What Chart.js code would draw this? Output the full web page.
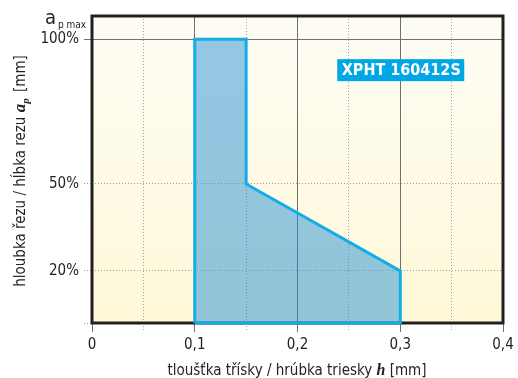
<!DOCTYPE html>
<html lang="cs">
<head>
  <meta charset="UTF-8" />
  <title>XPHT 160412S</title>
  <script src="https://cdn.jsdelivr.net/npm/chart.js"></script>
  <style>
    * { box-sizing: border-box; margin: 0; padding: 0; }
    body { background: #fff; width: 518px; height: 378px; overflow: hidden; }
    canvas { display: block; }
  </style>
</head>
<body>
  <canvas id="chart" width="518" height="378"></canvas>

  <script>
    // polygon of the working area (h in mm, ap in % of ap max)
    const hValues  = [0.1, 0.1, 0.15, 0.15, 0.3, 0.3, 0.1];
    const apValues = [2, 100, 100, 50, 20, 2, 2];
    const yTickValues = [2, 20, 50, 100];
    const xMin = 0, xMax = 0.4, xStep = 0.05;
    const yMin = 2, yMax = 108;
    const insertLabel = "XPHT 160412S";
    const xTitle = ["tloušťka třísky / hrúbka triesky ", "h", " [mm]"];
    const yTitle = ["hloubka řezu / hĺbka rezu ", "a", "p", " [mm]"];

    const SANS = "'Liberation Sans Narrow', 'DejaVu Sans Condensed', 'Liberation Sans', sans-serif";
    const SERIF = "'Liberation Serif', 'DejaVu Serif', serif";

    const isMajor = v => Math.abs(v * 10 - Math.round(v * 10)) < 1e-6;
    const xMajor = c => c.tick && isMajor(c.tick.value);
    const yMajor = c => c.tick && c.tick.value === 100;

    const frame = {
      id: "frame",
      beforeDraw(chart) {
        const { ctx, chartArea: a } = chart;
        const g = ctx.createLinearGradient(0, a.top, 0, a.bottom);
        g.addColorStop(0, "#fefdf5");
        g.addColorStop(1, "#fff8d8");
        ctx.save();
        ctx.fillStyle = g;
        ctx.fillRect(a.left, a.top, a.right - a.left, a.bottom - a.top);
        ctx.restore();
      },
      beforeDatasetsDraw(chart) {
        const { ctx, chartArea: a } = chart;
        ctx.save();
        ctx.strokeStyle = "#231f20";
        ctx.lineWidth = 3;
        ctx.strokeRect(a.left, a.top, a.right - a.left, a.bottom - a.top);
        ctx.restore();
      },
      afterDraw(chart) {
        const { ctx, scales } = chart;
        ctx.save();
        ctx.fillStyle = "#231f20";
        ctx.textBaseline = "alphabetic";

        // ap max over the y axis
        ctx.font = "20px " + SANS;
        ctx.fillText("a", 45, 24);
        ctx.font = "10px " + SANS;
        ctx.fillText("p max", 58, 28);

        // x axis title
        const f1 = "15px " + SANS, f2 = "bold italic 16px " + SERIF;
        ctx.font = f1; const w0 = ctx.measureText(xTitle[0]).width, w2 = ctx.measureText(xTitle[2]).width;
        ctx.font = f2; const w1 = ctx.measureText(xTitle[1]).width;
        let x = 297 - (w0 + w1 + w2) / 2;
        ctx.font = f1; ctx.fillText(xTitle[0], x, 375); x += w0;
        ctx.font = f2; ctx.fillText(xTitle[1], x, 375); x += w1;
        ctx.font = f1; ctx.fillText(xTitle[2], x, 375);

        // y axis title, rotated
        ctx.translate(25, 172);
        ctx.rotate(-Math.PI / 2);
        const f3 = "bold italic 17px " + SERIF, f4 = "bold italic 11px " + SERIF;
        ctx.font = f1; const v0 = ctx.measureText(yTitle[0]).width, v3 = ctx.measureText(yTitle[3]).width;
        ctx.font = f3; const v1 = ctx.measureText(yTitle[1]).width;
        ctx.font = f4; const v2 = ctx.measureText(yTitle[2]).width;
        let y = -(v0 + v1 + v2 + v3) / 2;
        ctx.font = f1; ctx.fillText(yTitle[0], y, 0); y += v0;
        ctx.font = f3; ctx.fillText(yTitle[1], y, 0); y += v1;
        ctx.font = f4; ctx.fillText(yTitle[2], y, 4); y += v2 + 2;
        ctx.font = f1; ctx.fillText(yTitle[3], y, 0);
        ctx.setTransform(1, 0, 0, 1, 0, 0);

        // insert label box
        const cx = scales.x.getPixelForValue(0.3), cy = scales.y.getPixelForValue(89.3);
        ctx.fillStyle = "#00a7e6";
        ctx.fillRect(cx - 63, cy - 11, 127, 22);
        ctx.fillStyle = "#fff";
        ctx.font = "bold 16px " + SANS;
        ctx.textAlign = "center";
        ctx.textBaseline = "middle";
        ctx.fillText(insertLabel, cx + 1, cy + 1);
        ctx.restore();
      }
    };

    new Chart(document.getElementById("chart"), {
      type: "line",
      data: {
        datasets: [{
          data: hValues.map((h, i) => ({ x: h, y: apValues[i] })),
          fill: "shape",
          backgroundColor: "rgba(40,146,214,0.5)",
          borderColor: "#12ade6",
          borderWidth: 3,
          borderJoinStyle: "miter",
          pointRadius: 0,
          tension: 0,
          clip: 5
        }]
      },
      options: {
        responsive: false,
        animation: false,
        devicePixelRatio: 1,
        layout: { padding: { left: 0, right: 15, top: 16, bottom: 0 } },
        plugins: { legend: { display: false }, tooltip: { enabled: false } },
        scales: {
          x: {
            type: "linear",
            min: xMin, max: xMax,
            afterFit: s => { s.height = 55; },
            border: { display: false, dash: c => (c.tick && !xMajor(c) ? [1, 2] : []) },
            grid: {
              color: c => xMajor(c) ? "#707070" : "#a0a0a0",
              tickColor: c => xMajor(c) ? "#707070" : "#a0a0a0",
              tickBorderDash: c => xMajor(c) ? [] : [1, 2],
              tickLength: 9,
              lineWidth: 1
            },
            ticks: {
              stepSize: xStep,
              autoSkip: false,
              maxRotation: 0,
              padding: 4,
              color: "#231f20",
              font: { family: SANS, size: 15 },
              callback: v => isMajor(v) ? (Math.abs(v) < 1e-9 ? "0" : v.toFixed(1).replace(".", ",")) : ""
            }
          },
          y: {
            min: yMin, max: yMax,
            afterFit: s => { s.width = 92; },
            afterBuildTicks: s => { s.ticks = yTickValues.map(v => ({ value: v })); },
            border: { display: false, dash: c => (c.tick && !yMajor(c) ? [1, 2] : []) },
            grid: {
              color: c => yMajor(c) ? "#707070" : "#a0a0a0",
              tickColor: c => yMajor(c) ? "#707070" : "#a0a0a0",
              tickBorderDash: c => yMajor(c) ? [] : [1, 2],
              tickLength: 8,
              lineWidth: 1
            },
            ticks: {
              padding: 5,
              color: "#231f20",
              font: { family: SANS, size: 15 },
              callback: v => v === yMin ? "" : v + "%"
            }
          }
        }
      },
      plugins: [frame]
    });
  </script>
</body>
</html>
